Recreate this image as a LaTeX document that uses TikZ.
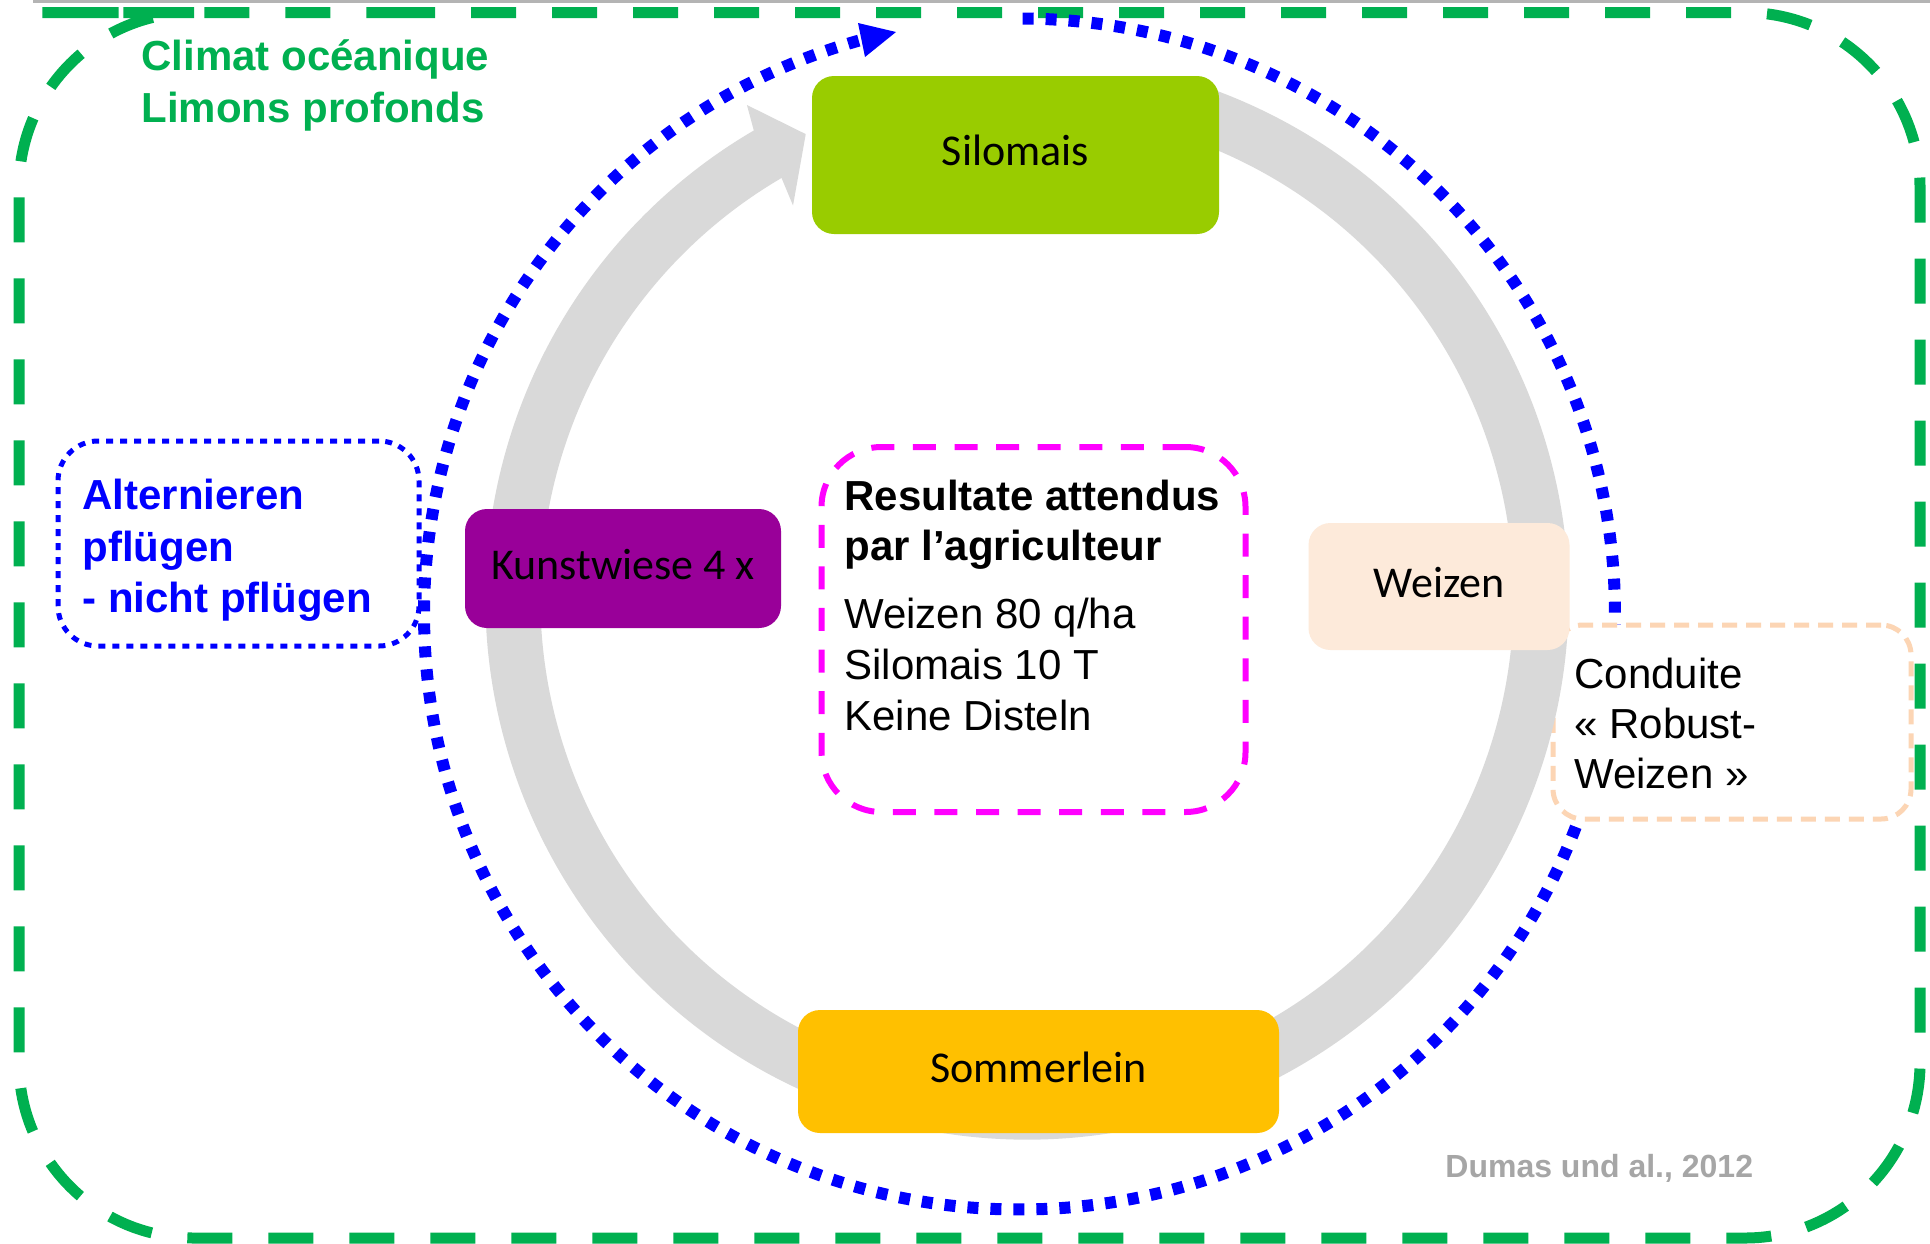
\documentclass[tikz,border=0pt]{standalone}
\usepackage{fontspec}
\setmainfont{Liberation Sans}
\newfontfamily\calibri{Carlito}
\definecolor{grn}{HTML}{00B050}
\definecolor{ringgray}{HTML}{D9D9D9}
\definecolor{silo}{HTML}{99CC00}
\definecolor{kunst}{HTML}{990099}
\definecolor{weiz}{HTML}{FDEADA}
\definecolor{somm}{HTML}{FFC000}
\definecolor{peach}{HTML}{FCD5B4}
\definecolor{dumas}{HTML}{A6A6A6}
\definecolor{topline}{HTML}{B4B4B4}
\definecolor{pureblue}{HTML}{0000FF}
\definecolor{puremag}{HTML}{FF00FF}
\begin{document}
\begin{tikzpicture}[x=0.5pt,y=-0.5pt,
  cropbox/.style={rounded corners=11pt, inner sep=0pt, text height=10.5pt, text depth=0pt,
    font=\calibri\fontsize{22pt}{26pt}\selectfont, text=black},
  txt/.style={anchor=base west, inner sep=0pt, font=\fontsize{21pt}{25pt}\selectfont},
  btxt/.style={anchor=base west, inner sep=0pt, font=\bfseries\fontsize{21pt}{25pt}\selectfont},
  framebox/.style={inner sep=0pt}
]
\useasboundingbox (0,0) rectangle (1930,1243);
\fill[white] (0,0) rectangle (1930,1243);

% thin grey line along the top edge
\draw[topline, line width=1.3pt] (33,1.3) -- (1930,1.3);

% green dashed outer frame
\draw[grn, line width=5.5pt, dash pattern=on 22.5pt off 18pt, rounded corners=87.5pt]
  (215,12.5) -- (1920,12.5) -- (1920,1238) -- (19,1238) -- (19,12.5) -- cycle;

% blue dotted circular arrow
\begin{scope}[shift={(1019.5,614)}, y=0.5pt]
  \draw[pureblue, line width=6pt, dash pattern=on 5.5pt off 6pt]
    (89.7:595.5) arc[start angle=89.7, end angle=-254.5, radius=595.5];
\end{scope}
\fill[pureblue] (858,23) -- (896,32) -- (865,57) -- cycle;

% left dotted box
\node[framebox, draw=pureblue, line width=2.5pt, dash pattern=on 3.5pt off 3.5pt,
  rounded corners=20pt, minimum width=180.5pt, minimum height=102.5pt] (alt) at (238.5,543.5) {};

% right peach dashed box
\node[framebox, draw=peach, fill=white, line width=2.5pt, dash pattern=on 7.5pt off 4.5pt,
  rounded corners=15pt, minimum width=179pt, minimum height=97pt] (cond) at (1732,722) {};

% grey cycle ring with arrowhead
\begin{scope}[shift={(1027,598)}, y=0.5pt]
  \draw[ringgray, line width=27.5pt] (70:514) arc[start angle=70, end angle=-241, radius=514];
  \fill[ringgray] (120.3:541.5) -- (119.6:567) -- (115.5:514) -- (120.8:457) -- (120.3:486.5) -- cycle;
\end{scope}

% crop boxes
\node[cropbox, fill=silo, minimum width=203.5pt, minimum height=79pt] (silo) at (1015.5,155) {Silomais};
\node[cropbox, fill=kunst, minimum width=158pt, minimum height=59.5pt] (kunst) at (623,568.5) {Kunstwiese 4 x};
\node[cropbox, fill=weiz, minimum width=130.5pt, minimum height=63.5pt] (weiz) at (1439,586.5) {Weizen};
\node[cropbox, fill=somm, minimum width=240.5pt, minimum height=61.5pt] (somm) at (1038.5,1071.5) {Sommerlein};

% central magenta box
\node[framebox, draw=puremag, line width=3pt, dash pattern=on 11.5pt off 9.3pt,
  rounded corners=30pt, minimum width=212pt, minimum height=182.5pt] (res) at (1033.5,629.5) {};

% texts
\node[btxt, text=grn] (clim1) at (141,70) {Climat océanique};
\node[btxt, text=grn] (clim2) at (141,122) {Limons profonds};

\node[btxt, text=pureblue] (alt1) at (82,509) {Alternieren};
\node[btxt, text=pureblue] (alt2) at (82,561) {pflügen};
\node[btxt, text=pureblue] (alt3) at (82,612) {- nicht pflügen};

\node[btxt] (res1) at (844,510) {Resultate attendus};
\node[btxt] (res2) at (844,560) {par l’agriculteur};
\node[txt] (res3) at (844,628) {Weizen 80 q/ha};
\node[txt] (res4) at (844,679) {Silomais 10 T};
\node[txt] (res5) at (844,730) {Keine Disteln};

\node[txt] (cond1) at (1574,688) {Conduite};
\node[txt] (cond2) at (1574,738) {« Robust-};
\node[txt] (cond3) at (1574,788) {Weizen »};

\node[anchor=base west, inner sep=0pt, text=dumas, font=\bfseries\fontsize{16pt}{19pt}\selectfont] (src) at (1445,1177) {Dumas und al., 2012};
\end{tikzpicture}
\end{document}
